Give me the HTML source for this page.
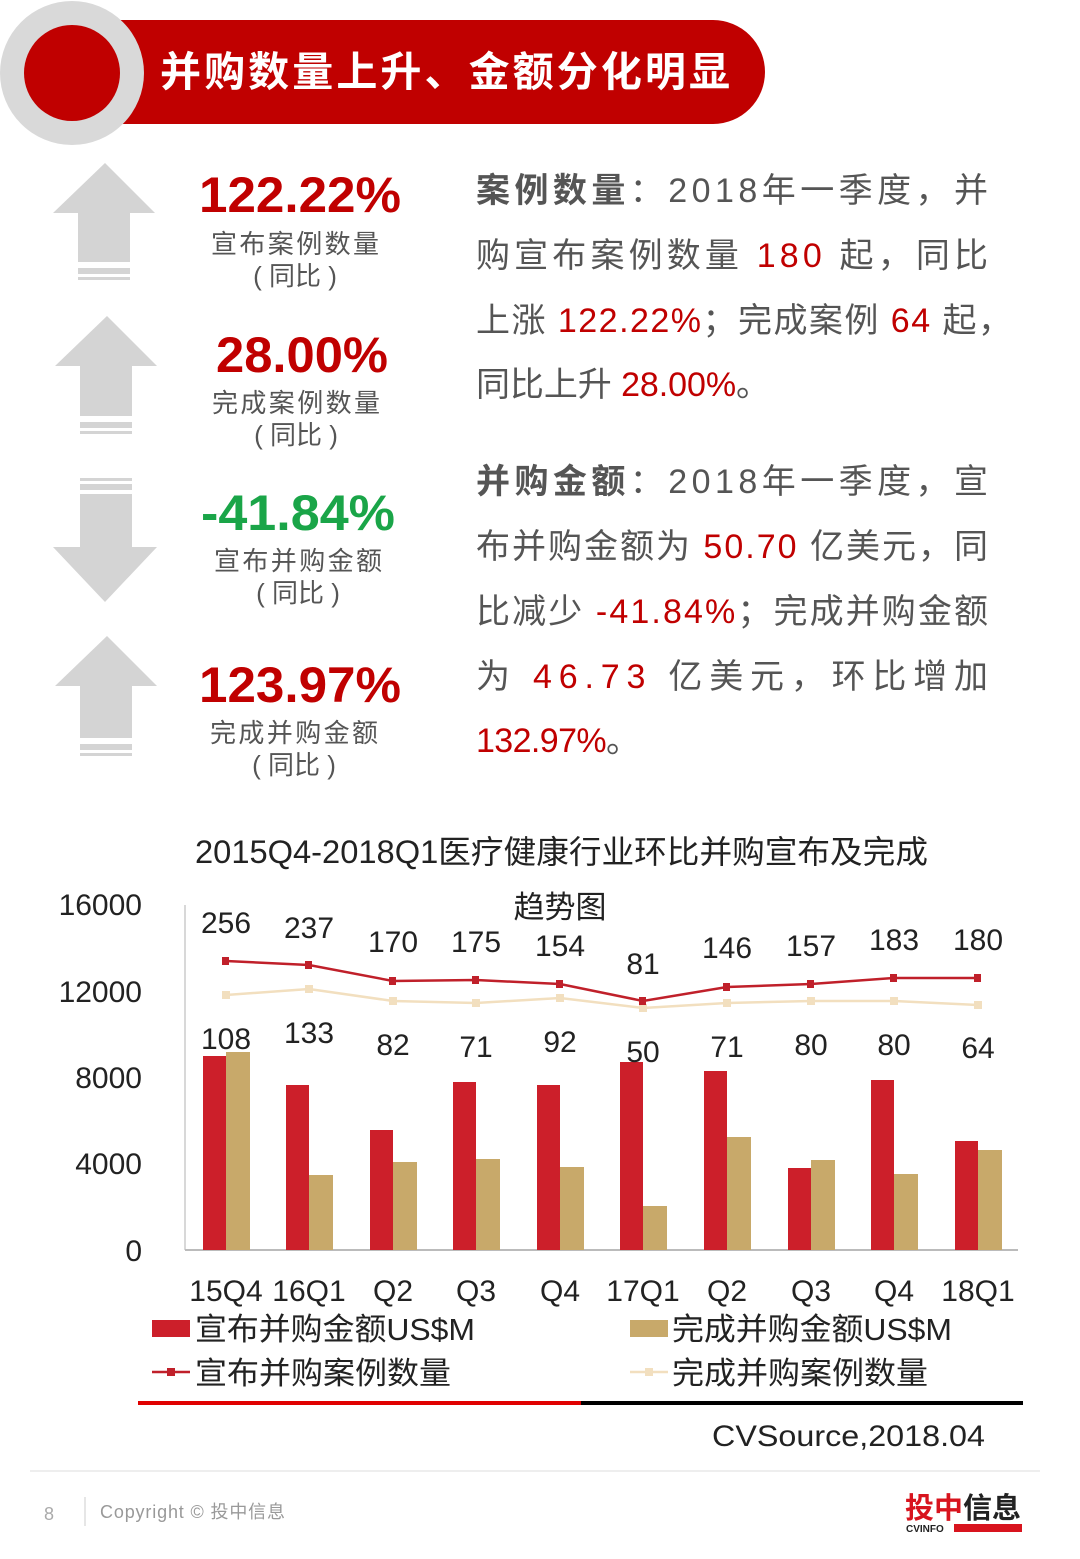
<!DOCTYPE html>
<html><head><meta charset="utf-8"><style>
html,body{margin:0;padding:0;background:#fff;}
svg{display:block;}
text{font-family:"Liberation Sans","Noto Sans CJK SC",sans-serif;}
</style></head><body>
<svg width="1080" height="1559" viewBox="0 0 1080 1559" xmlns="http://www.w3.org/2000/svg">
<rect x="80" y="20" width="685" height="104" rx="52" fill="#c00000"/>
<rect x="80" y="20" width="200" height="104" fill="#c00000"/>
<circle cx="72" cy="73" r="72" fill="#d9d9d9"/>
<circle cx="72" cy="73" r="48" fill="#c00000"/>
<text x="160" y="86" font-size="41" font-weight="bold" fill="#fff" textLength="570" lengthAdjust="spacing">并购数量上升、金额分化明显</text>

<g fill="#d4d4d4">
<polygon points="105,163 155,213 130,213 130,262 78,262 78,213 53,213"/>
<rect x="78" y="268" width="52" height="6"/><rect x="78" y="277" width="52" height="3"/>
<polygon points="107,316 157,366 132,366 132,416 80,416 80,366 55,366"/>
<rect x="80" y="422" width="52" height="6"/><rect x="80" y="431" width="52" height="3"/>
<rect x="80" y="478" width="52" height="3"/><rect x="80" y="484" width="52" height="6"/>
<polygon points="80,494 132,494 132,547 157,547 105,602 53,547 80,547"/>
<polygon points="107,636 157,686 132,686 132,738 80,738 80,686 55,686"/>
<rect x="80" y="744" width="52" height="6"/><rect x="80" y="753" width="52" height="3"/>
</g>

<g text-anchor="middle">
<text x="300" y="212" font-size="50" font-weight="bold" fill="#c00000" textLength="202" lengthAdjust="spacingAndGlyphs">122.22%</text>
<text x="295" y="253" font-size="26" fill="#555" textLength="168">宣布案例数量</text>
<text x="295" y="285" font-size="26" fill="#555">( 同比 )</text>
<text x="302" y="372" font-size="50" font-weight="bold" fill="#c00000" textLength="172" lengthAdjust="spacingAndGlyphs">28.00%</text>
<text x="296" y="412" font-size="26" fill="#555" textLength="168">完成案例数量</text>
<text x="296" y="444" font-size="26" fill="#555">( 同比 )</text>
<text x="298" y="530" font-size="50" font-weight="bold" fill="#1aa548" textLength="194" lengthAdjust="spacingAndGlyphs">-41.84%</text>
<text x="298" y="570" font-size="26" fill="#555" textLength="168">宣布并购金额</text>
<text x="298" y="602" font-size="26" fill="#555">( 同比 )</text>
<text x="300" y="702" font-size="50" font-weight="bold" fill="#c00000" textLength="202" lengthAdjust="spacingAndGlyphs">123.97%</text>
<text x="294" y="742" font-size="26" fill="#555" textLength="168">完成并购金额</text>
<text x="294" y="774" font-size="26" fill="#555">( 同比 )</text>
</g>

<g font-size="34" fill="#555">
<text x="476" y="202" textLength="512" lengthAdjust="spacing"><tspan font-weight="bold">案例数量</tspan>：2018年一季度，并</text>
<text x="476" y="267" textLength="512" lengthAdjust="spacing">购宣布案例数量  <tspan fill="#c00000">180</tspan>  起，同比</text>
<text x="476" y="332" textLength="536" lengthAdjust="spacing">上涨 <tspan fill="#c00000">122.22%</tspan>；完成案例 <tspan fill="#c00000">64</tspan> 起，</text>
<text x="476" y="396" textLength="294" lengthAdjust="spacing">同比上升 <tspan fill="#c00000">28.00%</tspan>。</text>
<text x="476" y="493" textLength="512" lengthAdjust="spacing"><tspan font-weight="bold">并购金额</tspan>：2018年一季度，宣</text>
<text x="476" y="558" textLength="512" lengthAdjust="spacing">布并购金额为 <tspan fill="#c00000">50.70</tspan> 亿美元，同</text>
<text x="476" y="623" textLength="512" lengthAdjust="spacing">比减少 <tspan fill="#c00000">-41.84%</tspan>；完成并购金额</text>
<text x="476" y="688" textLength="512" lengthAdjust="spacing">为  <tspan fill="#c00000">46.73</tspan>  亿美元，环比增加</text>
<text x="476" y="752" fill="#c00000" textLength="164" lengthAdjust="spacing">132.97%<tspan fill="#555">。</tspan></text>
</g>

<text x="195" y="863" font-size="32" fill="#222" textLength="733" lengthAdjust="spacingAndGlyphs">2015Q4-2018Q1医疗健康行业环比并购宣布及完成</text>
<text x="560" y="918" font-size="31" fill="#222" text-anchor="middle">趋势图</text>
<g font-size="30" fill="#222" text-anchor="end">
<text x="142" y="915">16000</text><text x="142" y="1002">12000</text><text x="142" y="1088">8000</text><text x="142" y="1174">4000</text><text x="142" y="1261">0</text>
</g>
<line x1="185" y1="905" x2="185" y2="1250" stroke="#ccc" stroke-width="1.5"/>
<line x1="185" y1="1250" x2="1018" y2="1250" stroke="#bbb" stroke-width="2"/>
<g fill="#cc1f2a">
<rect x="203" y="1056" width="23" height="194"/><rect x="286" y="1085" width="23" height="165"/>
<rect x="370" y="1130" width="23" height="120"/><rect x="453" y="1082" width="23" height="168"/>
<rect x="537" y="1085" width="23" height="165"/><rect x="620" y="1062" width="23" height="188"/>
<rect x="704" y="1071" width="23" height="179"/><rect x="788" y="1168" width="23" height="82"/>
<rect x="871" y="1080" width="23" height="170"/><rect x="955" y="1141" width="23" height="109"/>
</g>
<g fill="#c8a96a">
<rect x="226" y="1052" width="24" height="198"/><rect x="309" y="1175" width="24" height="75"/>
<rect x="393" y="1162" width="24" height="88"/><rect x="476" y="1159" width="24" height="91"/>
<rect x="560" y="1167" width="24" height="83"/><rect x="643" y="1206" width="24" height="44"/>
<rect x="727" y="1137" width="24" height="113"/><rect x="811" y="1160" width="24" height="90"/>
<rect x="894" y="1174" width="24" height="76"/><rect x="978" y="1150" width="24" height="100"/>
</g>
<polyline points="226,995 309,989 393,1001 476,1003 560,998 643,1008 727,1003 811,1001 894,1001 978,1005" fill="none" stroke="#f2dfbf" stroke-width="2.5"/>
<g fill="#f2dfbf">
<rect x="222" y="991" width="8" height="8"/><rect x="305" y="985" width="8" height="8"/><rect x="389" y="997" width="8" height="8"/><rect x="472" y="999" width="8" height="8"/><rect x="556" y="994" width="8" height="8"/><rect x="639" y="1004" width="8" height="8"/><rect x="723" y="999" width="8" height="8"/><rect x="807" y="997" width="8" height="8"/><rect x="890" y="997" width="8" height="8"/><rect x="974" y="1001" width="8" height="8"/>
</g>
<polyline points="226,961 309,965 393,981 476,980 560,984 643,1001 727,987 811,984 894,978 978,978" fill="none" stroke="#c0202a" stroke-width="2.5"/>
<g fill="#c0202a">
<rect x="222" y="957" width="7" height="8"/><rect x="305" y="961" width="7" height="8"/><rect x="389" y="977" width="7" height="8"/><rect x="472" y="976" width="7" height="8"/><rect x="556" y="980" width="7" height="8"/><rect x="639" y="997" width="7" height="8"/><rect x="723" y="983" width="7" height="8"/><rect x="807" y="980" width="7" height="8"/><rect x="890" y="974" width="7" height="8"/><rect x="974" y="974" width="7" height="8"/>
</g>
<g font-size="30" fill="#222" text-anchor="middle">
<text x="226" y="933">256</text><text x="309" y="938">237</text><text x="393" y="952">170</text><text x="476" y="952">175</text><text x="560" y="956">154</text><text x="643" y="974">81</text><text x="727" y="958">146</text><text x="811" y="956">157</text><text x="894" y="950">183</text><text x="978" y="950">180</text>
<text x="226" y="1049">108</text><text x="309" y="1043">133</text><text x="393" y="1055">82</text><text x="476" y="1057">71</text><text x="560" y="1052">92</text><text x="643" y="1062">50</text><text x="727" y="1057">71</text><text x="811" y="1055">80</text><text x="894" y="1055">80</text><text x="978" y="1058">64</text>
<text x="226" y="1301">15Q4</text><text x="309" y="1301">16Q1</text><text x="393" y="1301">Q2</text><text x="476" y="1301">Q3</text><text x="560" y="1301">Q4</text><text x="643" y="1301">17Q1</text><text x="727" y="1301">Q2</text><text x="811" y="1301">Q3</text><text x="894" y="1301">Q4</text><text x="978" y="1301">18Q1</text>
</g>
<rect x="152" y="1320" width="38" height="17" fill="#cc1f2a"/>
<text x="195" y="1340" font-size="31" fill="#222" textLength="280" lengthAdjust="spacingAndGlyphs">宣布并购金额US$M</text>
<rect x="630" y="1320" width="38" height="17" fill="#c8a96a"/>
<text x="672" y="1340" font-size="31" fill="#222" textLength="280" lengthAdjust="spacingAndGlyphs">完成并购金额US$M</text>
<line x1="152" y1="1372" x2="190" y2="1372" stroke="#c0202a" stroke-width="2.5"/><rect x="167" y="1368" width="8" height="8" fill="#c0202a"/>
<text x="195" y="1384" font-size="31" fill="#222" textLength="256" lengthAdjust="spacingAndGlyphs">宣布并购案例数量</text>
<line x1="630" y1="1372" x2="668" y2="1372" stroke="#f2dfbf" stroke-width="2.5"/><rect x="645" y="1368" width="8" height="8" fill="#f2dfbf"/>
<text x="672" y="1384" font-size="31" fill="#222" textLength="256" lengthAdjust="spacingAndGlyphs">完成并购案例数量</text>
<rect x="138" y="1401" width="443" height="4" fill="#e00000"/>
<rect x="581" y="1401" width="442" height="4" fill="#000"/>
<text x="985" y="1446" font-size="30" fill="#222" text-anchor="end" textLength="273" lengthAdjust="spacingAndGlyphs">CVSource,2018.04</text>

<line x1="30" y1="1471" x2="1040" y2="1471" stroke="#eee" stroke-width="2"/>
<text x="44" y="1520" font-size="18" fill="#aaa">8</text>
<line x1="85" y1="1497" x2="85" y2="1526" stroke="#ccc"/>
<text x="100" y="1518" font-size="18" fill="#999" textLength="185" lengthAdjust="spacing">Copyright © 投中信息</text>
<text x="905" y="1518" font-size="29" font-weight="bold" fill="#d8141e" textLength="116" lengthAdjust="spacingAndGlyphs">投中<tspan fill="#222">信息</tspan></text>
<text x="906" y="1532" font-size="10" font-weight="bold" fill="#222">CVINFO</text>
<rect x="954" y="1524" width="68" height="8" fill="#d8141e"/>
</svg>
</body></html>
